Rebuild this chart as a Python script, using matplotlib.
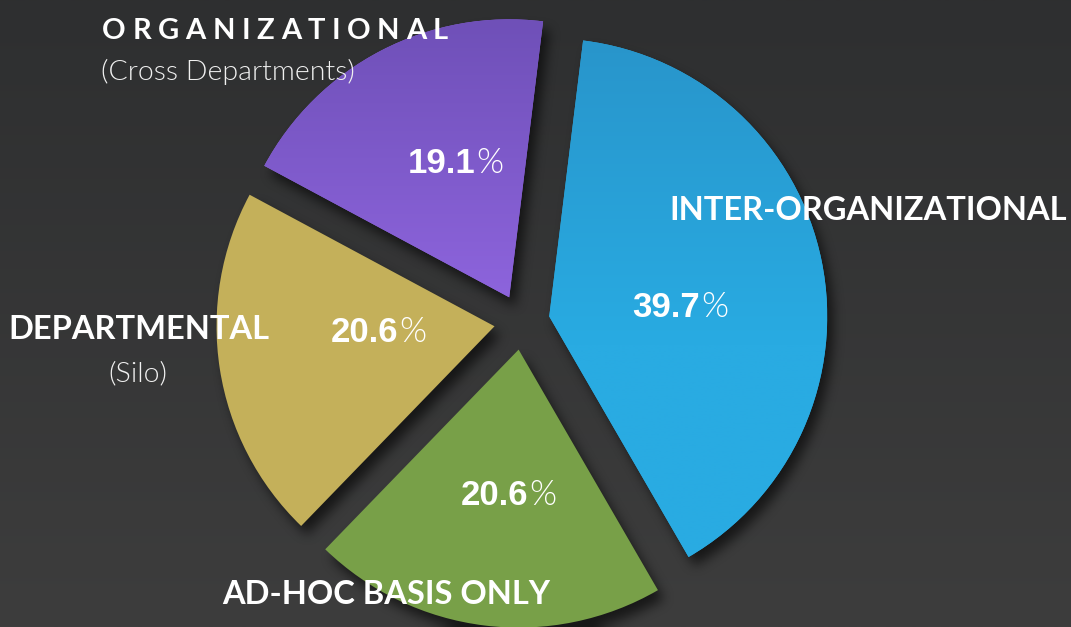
import numpy as np
import matplotlib
matplotlib.use("Agg")
import matplotlib.pyplot as plt
from matplotlib.colors import LinearSegmentedColormap
from matplotlib import font_manager as fm

# ---- data ----
categories = ["INTER-ORGANIZATIONAL", "AD-HOC BASIS ONLY", "DEPARTMENTAL", "ORGANIZATIONAL"]
subtitles = ["", "", "(Silo)", "(Cross Departments)"]
values = [39.7, 20.6, 20.6, 19.1]
pct_labels = ["39.7", "20.6", "20.6", "19.1"]
colors = ["#29abe2", "#78a048", "#c4b05a", "#9066e0"]
top_colors = ["#2895cb", "#78a048", "#c4b05a", "#6f50b8"]


def find_lato_light():
    best = None
    for f in fm.fontManager.ttflist:
        if f.name != "Lato":
            continue
        fn = f.fname.lower()
        if "hairline" in fn or "thin" in fn or "italic" in fn:
            continue
        w = f.weight if isinstance(f.weight, int) else 400
        score = abs(w - 300)
        if "light" in fn:
            score -= 50
        if best is None or score < best[0]:
            best = (score, f.fname)
    return fm.FontProperties(fname=best[1]) if best else fm.FontProperties(family="Lato")


light_fp = find_lato_light()

W, H = 1071, 627
fig = plt.figure(figsize=(W / 100, H / 100), dpi=100)
ax = fig.add_axes([0, 0, 1, 1])

cx, cy, R = 522, 305, 278
wedges, _ = ax.pie(values, colors=colors, startangle=83, counterclock=False,
                   explode=[0.1 * R] * 4, radius=R, center=(cx, cy),
                   wedgeprops=dict(linewidth=0, zorder=4))
ax.set_xlim(0, W)
ax.set_ylim(0, H)
ax.set_aspect("auto")
ax.axis("off")

# background gradient
bg = LinearSegmentedColormap.from_list("bg", ["#3d3d3d", "#2e2f30"])
ax.imshow(np.linspace(0, 1, 256).reshape(-1, 1), cmap=bg, origin="lower",
          extent=(0, W, 0, H), aspect="auto", zorder=0)

# soft blurred drop shadow (rasterised mask of the wedges, shifted and blurred)
xs = np.arange(W) + 0.5
ys = np.arange(H) + 0.5
gx, gy = np.meshgrid(xs, ys)
dx, dy = 6, -9
pts = np.column_stack([gx.ravel() - dx, gy.ravel() - dy])
mask = np.zeros(W * H)
for w in wedges:
    p = w.get_patch_transform().transform_path(w.get_path())
    mask = np.maximum(mask, p.contains_points(pts).astype(float))
mask = mask.reshape(H, W)


def box_blur(a, r, axis):
    pad = [(0, 0), (0, 0)]
    pad[axis] = (r + 1, r)
    ap = np.pad(a, pad, mode="edge")
    c = np.cumsum(ap, axis=axis)
    n = a.shape[axis]
    if axis == 0:
        return (c[2 * r + 1:2 * r + 1 + n] - c[:n]) / (2 * r + 1)
    return (c[:, 2 * r + 1:2 * r + 1 + n] - c[:, :n]) / (2 * r + 1)


blur = mask
for _ in range(3):
    blur = box_blur(blur, 5, 0)
    blur = box_blur(blur, 5, 1)
shadow = np.zeros((H, W, 4))
shadow[..., 3] = np.clip(blur, 0, 1) * 0.6
ax.imshow(shadow, origin="lower", extent=(0, W, 0, H), aspect="auto", zorder=2,
          interpolation="nearest")

# vertical gradients inside wedges
for w, ctop, cbot in zip(wedges, top_colors, colors):
    if ctop == cbot:
        continue
    c = w.center
    cm = LinearSegmentedColormap.from_list("g", [(0, cbot), (0.45, cbot), (1, ctop)])
    im = ax.imshow(np.linspace(0, 1, 256).reshape(-1, 1), cmap=cm, origin="lower",
                   extent=(c[0] - R, c[0] + R, c[1] - R, c[1] + R),
                   aspect="auto", zorder=5)
    im.set_clip_path(w)

renderer = fig.canvas.get_renderer()


def spaced_text(x, y, s, target_width, **kw):
    items = []
    widths = []
    for ch in s:
        t = ax.text(0, y, ch, ha="left", va="baseline", **kw)
        widths.append(t.get_window_extent(renderer=renderer).width)
        items.append(t)
    spacing = (target_width - sum(widths)) / (len(s) - 1)
    for t, wd in zip(items, widths):
        t.set_x(x)
        x += wd + spacing


lab = dict(color="white", family="Lato", fontweight="bold", zorder=10)


def sub_text(x, y, s, ha):
    fp = light_fp.copy()
    fp.set_size(20.5)
    ax.text(x, y, s, ha=ha, va="baseline", fontproperties=fp, color="#f0f0f0", zorder=10)


# category labels (pixel-based positions; y flipped)
spaced_text(102, H - 39, categories[3], 346, fontsize=21, **lab)
sub_text(101, H - 80, subtitles[3], "left")
ax.text(139, H - 339, categories[2], ha="center", va="baseline", fontsize=23.5, **lab)
sub_text(138, H - 381, subtitles[2], "center")
ax.text(868, H - 220, categories[0], ha="center", va="baseline", fontsize=23.5, **lab)
ax.text(386, H - 604, categories[1], ha="center", va="baseline", fontsize=23.5, **lab)

# percentage labels
pct_pos = [(700, 317), (528, 505), (398, 342), (475, 173)]
for (px, py), txt in zip(pct_pos, pct_labels):
    ax.text(px, H - py, txt, ha="right", va="baseline", fontsize=25,
            family="Liberation Sans", fontweight="bold", color="white", zorder=10)
    fp = light_fp.copy()
    fp.set_size(25)
    ax.text(px + 1, H - py, "%", ha="left", va="baseline", fontproperties=fp,
            color="white", zorder=10)

fig.savefig("out.png", dpi=100, facecolor="#333333")
